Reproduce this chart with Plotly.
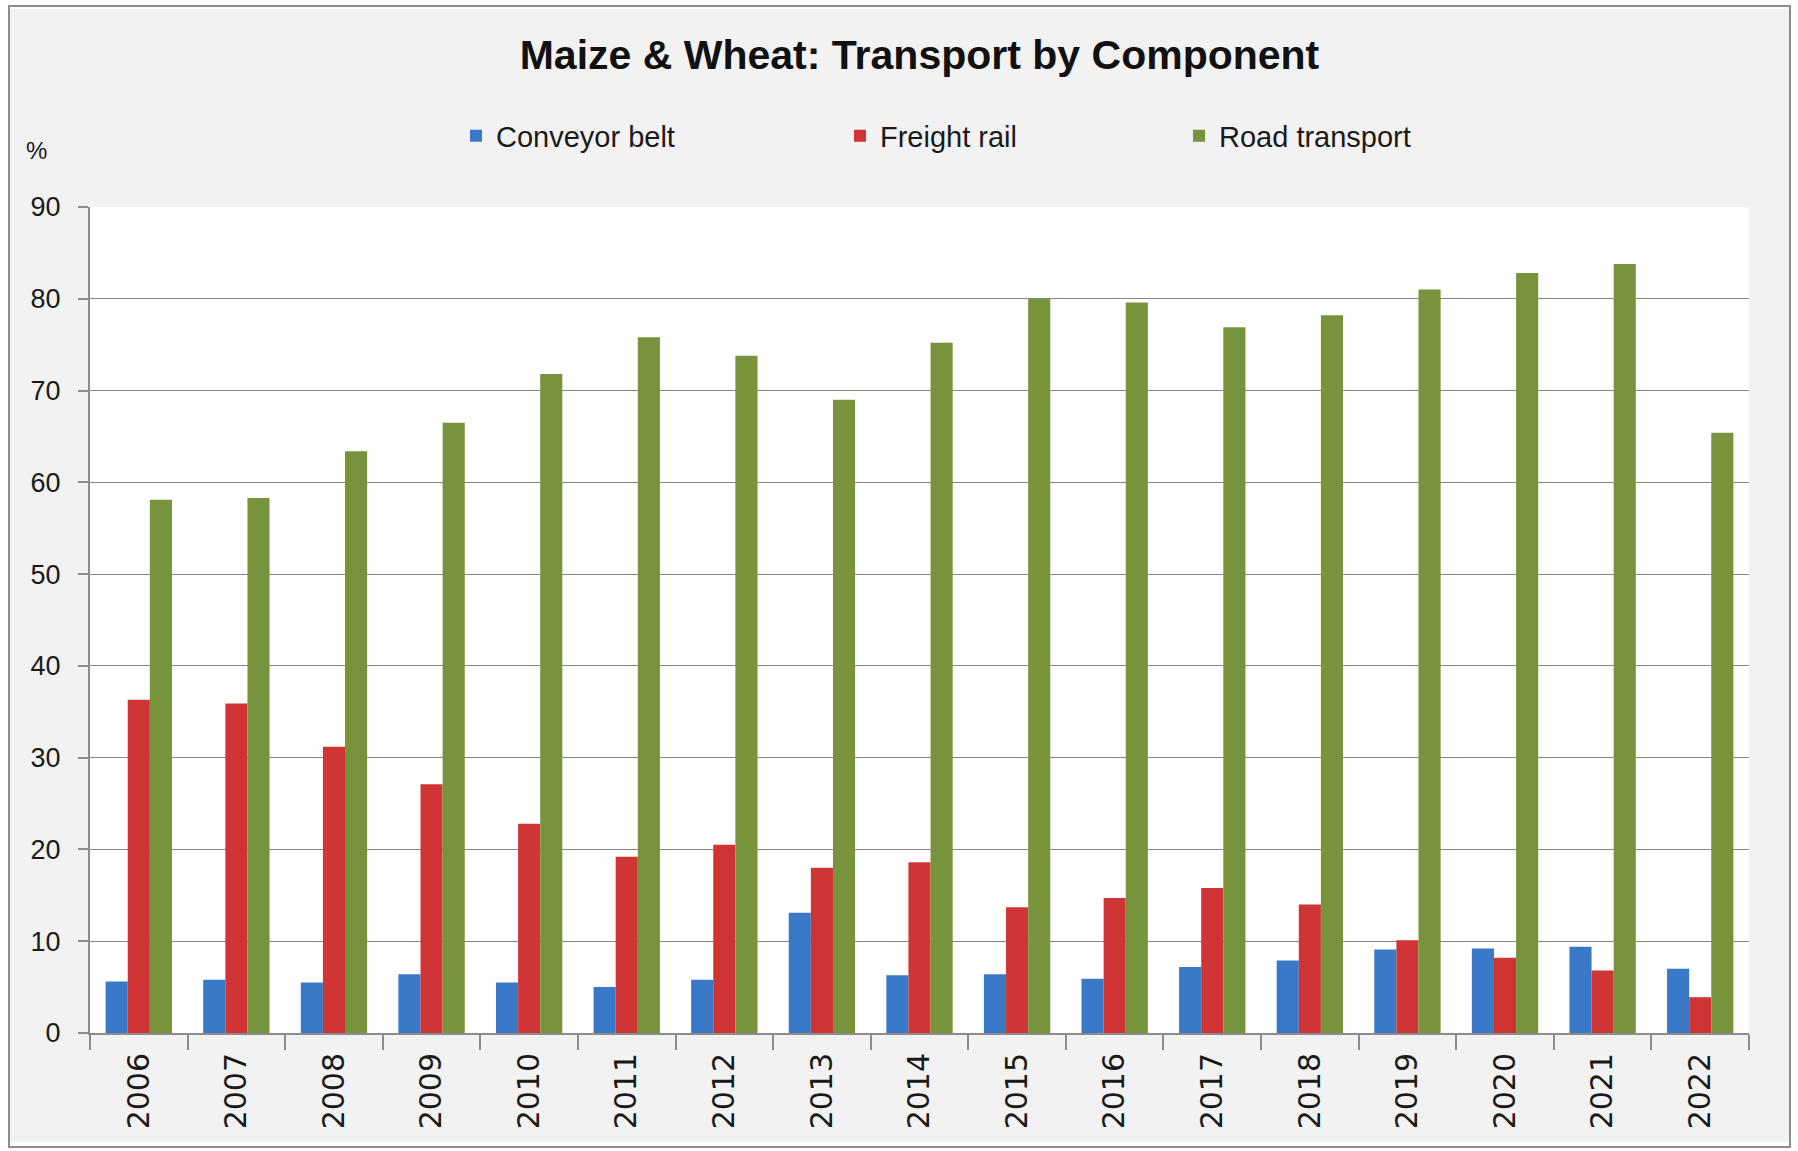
import plotly.graph_objects as go

years = [str(y) for y in range(2006, 2023)]
conveyor_belt = [5.6, 5.8, 5.5, 6.4, 5.5, 5.0, 5.8, 13.1, 6.3, 6.4, 5.9, 7.2, 7.9, 9.1, 9.2, 9.4, 7.0]
freight_rail = [36.3, 35.9, 31.2, 27.1, 22.8, 19.2, 20.5, 18.0, 18.6, 13.7, 14.7, 15.8, 14.0, 10.1, 8.2, 6.8, 3.9]
road_transport = [58.1, 58.3, 63.4, 66.5, 71.8, 75.8, 73.8, 69.0, 75.2, 80.0, 79.6, 76.9, 78.2, 81.0, 82.8, 83.8, 65.4]

W, H = 1798, 1151
L, R, T, B = 90, 1749, 207, 1033

def px(x):
    return (x - L) / (R - L)

def py(y):
    return (B - y) / (B - T)

FONT = "Liberation Sans, Arial, sans-serif"
TXT = "#1a1a1a"

fig = go.Figure()
fig.add_trace(go.Bar(x=years, y=conveyor_belt, name="Conveyor belt",
                     marker=dict(color="#3a78c8", line=dict(width=0)), legend="legend"))
fig.add_trace(go.Bar(x=years, y=freight_rail, name="Freight rail",
                     marker=dict(color="#cf3535", line=dict(width=0)), legend="legend2"))
fig.add_trace(go.Bar(x=years, y=road_transport, name="Road transport",
                     marker=dict(color="#77933c", line=dict(width=0)), legend="legend3"))

leg_common = dict(orientation="h", yanchor="middle", xanchor="left",
                  bgcolor="rgba(0,0,0,0)", font=dict(family=FONT, size=29, color=TXT))
fig.update_layout(
    width=W, height=H,
    margin=dict(l=L, r=W - R, t=T, b=H - B, autoexpand=False),
    paper_bgcolor="#f2f2f2",
    plot_bgcolor="white",
    showlegend=True,
    barmode="group",
    bargap=0.32,
    bargroupgap=0,
    title=dict(text="<b>Maize &amp; Wheat: Transport by Component</b>",
               x=0.5, xref="paper", xanchor="center", y=1 - 55 / H, yanchor="middle",
               font=dict(family=FONT, size=41, color="#111111")),
    legend=dict(x=px(456), y=py(136), **leg_common),
    legend2=dict(x=px(840), y=py(136), **leg_common),
    legend3=dict(x=px(1179), y=py(136), **leg_common),
    xaxis=dict(type="category", tickangle=-90, ticks="outside", tickson="boundaries",
               ticklen=15, tickcolor="#8c8c8c", tickwidth=1.5,
               showline=True, linecolor="#8c8c8c", linewidth=2,
               ticklabelstandoff=6,
               tickfont=dict(family="DejaVu Sans, sans-serif", size=30, color=TXT),
               showgrid=False),
    yaxis=dict(range=[0, 90], dtick=10, ticks="outside", ticklen=10, tickcolor="#8c8c8c",
               tickwidth=1.5, showline=True, linecolor="#8c8c8c", linewidth=2,
               gridcolor="#878787", gridwidth=1.4, zeroline=False,
               ticklabelstandoff=12,
               tickfont=dict(family=FONT, size=27, color=TXT)),
    annotations=[dict(text="%", xref="paper", yref="paper", x=px(36), y=py(150),
                      xanchor="center", yanchor="middle", showarrow=False,
                      font=dict(family=FONT, size=24, color=TXT))],
    shapes=[
        dict(type="rect", xref="paper", yref="paper", x0=px(0), x1=px(W), y0=py(0), y1=py(H),
             line=dict(color="white", width=18), fillcolor="rgba(0,0,0,0)"),
        dict(type="rect", xref="paper", yref="paper", x0=px(9), x1=px(1790), y0=py(6), y1=py(1147),
             line=dict(color="#8c8c8c", width=2), fillcolor="rgba(0,0,0,0)"),
    ],
)

fig.write_html("out.html", config={"displayModeBar": False},
               post_script="document.body.style.margin='0';")
